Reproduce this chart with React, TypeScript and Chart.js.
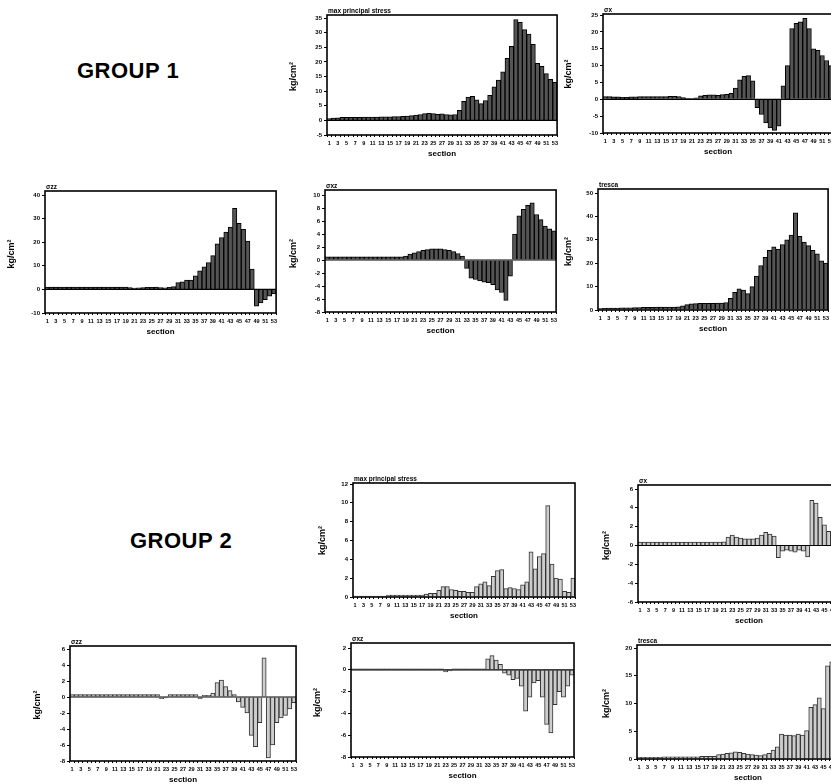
import React, { useEffect, useRef } from "react";
import { Chart, registerables } from "chart.js";

Chart.register(...registerables);

const sections = [
  1, 2, 3, 4, 5, 6, 7, 8, 9, 10, 11, 12, 13, 14, 15, 16, 17, 18, 19, 20, 21, 22, 23, 24, 25, 26,
  27, 28, 29, 30, 31, 32, 33, 34, 35, 36, 37, 38, 39, 40, 41, 42, 43, 44, 45, 46, 47, 48, 49, 50,
  51, 52, 53,
];

const g1MaxPrincipal = [
  0.6, 0.8, 0.9, 1.0, 1.0, 1.0, 1.0, 1.0, 1.1, 1.1, 1.1, 1.1, 1.2, 1.2, 1.2, 1.3, 1.3, 1.4, 1.5, 1.6,
  1.8, 2.0, 2.3, 2.4, 2.3, 2.1, 2.2, 2.0, 1.9, 2.0, 3.4, 6.5, 8.0, 8.2, 7.0, 5.7, 6.8, 8.6, 11.5, 13.8,
  16.6, 21.2, 25.3, 34.5, 33.5, 31.0, 29.5, 26.0, 19.5, 18.5, 16.0, 14.0, 13.0,
];
const g1Sx = [
  0.8, 0.8, 0.7, 0.7, 0.6, 0.6, 0.7, 0.7, 0.8, 0.8, 0.8, 0.8, 0.8, 0.8, 0.8, 0.9, 0.9, 0.8, 0.5, 0.3,
  0.2, 0.4, 1.0, 1.2, 1.3, 1.3, 1.2, 1.4, 1.5, 1.8, 3.3, 5.8, 6.8, 7.0, 5.5, -2.5, -4.5, -7.0, -8.5, -9.2,
  -8.0, 4.0, 10.0, 21.0, 22.5, 23.0, 24.0, 21.0, 15.0, 14.5, 13.0, 11.5, 10.0,
];
const g1Szz = [
  1.0, 1.0, 1.0, 1.0, 1.0, 1.0, 1.0, 1.0, 1.0, 1.0, 1.0, 1.0, 1.0, 1.0, 1.0, 1.0, 1.0, 1.0, 1.0, 0.8,
  0.6, 0.7, 0.8, 0.9, 0.9, 1.0, 0.8, 0.7, 0.9, 1.2, 2.9, 3.2, 3.9, 4.0, 5.7, 7.9, 9.6, 11.4, 14.3, 19.3,
  22.0, 24.3, 26.4, 34.3, 28.0, 25.5, 20.5, 8.6, -7.1, -5.7, -4.3, -2.9, -1.9,
];
const g1Sxz = [
  0.5, 0.5, 0.5, 0.5, 0.5, 0.5, 0.5, 0.5, 0.5, 0.5, 0.5, 0.5, 0.5, 0.5, 0.5, 0.5, 0.5, 0.5, 0.6, 0.9,
  1.1, 1.3, 1.5, 1.6, 1.7, 1.7, 1.7, 1.6, 1.5, 1.3, 1.0, 0.6, -1.3, -2.8, -3.0, -3.2, -3.4, -3.5, -3.8, -4.6,
  -5.0, -6.2, -2.5, 4.0, 6.8, 7.8, 8.4, 8.8, 7.0, 6.2, 5.2, 4.8, 4.5,
];
const g1Tresca = [
  0.6, 0.7, 0.8, 0.8, 0.8, 0.9, 0.9, 0.9, 1.0, 1.0, 1.1, 1.1, 1.1, 1.2, 1.2, 1.2, 1.3, 1.3, 1.4, 1.8,
  2.3, 2.6, 2.7, 2.8, 2.8, 2.9, 2.9, 3.0, 3.0, 3.2, 5.0, 7.5, 9.0, 8.5, 7.0, 10.0, 14.5, 19.0, 22.5, 25.5,
  27.0, 26.0, 28.0, 30.0, 32.0, 41.5, 31.5, 29.0, 27.5, 25.5, 24.0, 21.0, 20.0,
];

const g2MaxPrincipal = [
  0.1, 0.1, 0.1, 0.1, 0.1, 0.1, 0.1, 0.1, 0.2, 0.2, 0.2, 0.2, 0.2, 0.2, 0.2, 0.2, 0.2, 0.3, 0.4, 0.4,
  0.7, 1.1, 1.1, 0.8, 0.7, 0.6, 0.6, 0.5, 0.5, 1.1, 1.4, 1.6, 1.2, 2.2, 2.8, 2.9, 0.9, 1.0, 0.9, 0.8,
  1.3, 1.6, 4.8, 3.0, 4.3, 4.6, 9.7, 3.5, 2.0, 1.9, 0.6, 0.5, 2.0,
];
const g2Sx = [
  0.35, 0.35, 0.35, 0.35, 0.35, 0.35, 0.35, 0.35, 0.35, 0.35, 0.35, 0.35, 0.35, 0.35, 0.35, 0.35, 0.35,
  0.35, 0.35, 0.35, 0.4, 0.9, 1.1, 0.9, 0.8, 0.7, 0.7, 0.7, 0.8, 1.1, 1.4, 1.2, 1.0, -1.3, -0.6, -0.5,
  -0.6, -0.7, -0.5, -0.6, -1.2, 4.8, 4.5, 3.0, 2.2, 1.5, 1.2, 1.0, 0.8, 0.6, 0.5, 0.4, 0.3,
];
const g2Szz = [
  0.3, 0.3, 0.3, 0.3, 0.3, 0.3, 0.3, 0.3, 0.3, 0.3, 0.3, 0.3, 0.3, 0.3, 0.3, 0.3, 0.3, 0.3, 0.3, 0.3,
  0.3, -0.2, -0.1, 0.3, 0.3, 0.3, 0.3, 0.3, 0.3, 0.3, -0.2, 0.2, 0.2, 0.5, 1.8, 2.1, 1.3, 0.8, 0.3, -0.6,
  -1.3, -2.0, -4.8, -6.2, -3.2, 4.9, -7.6, -6.0, -3.2, -2.6, -2.3, -1.5, -0.7,
];
const g2Sxz = [
  0.1, 0.1, 0.1, 0.1, 0.1, 0.1, 0.1, 0.1, 0.1, 0.1, 0.1, 0.1, 0.1, 0.1, 0.1, 0.1, 0.1, 0.1, 0.1, 0.1,
  0.1, 0.1, -0.2, -0.1, 0.1, 0.1, 0.1, 0.1, 0.1, 0.1, 0.1, 0.1, 1.0, 1.3, 0.9, 0.5, -0.3, -0.5, -0.9, -0.8,
  -1.5, -3.8, -2.5, -1.2, -1.0, -2.5, -5.0, -5.8, -3.2, -2.0, -2.5, -1.5, -0.5,
];
const g2Tresca = [
  0.3, 0.3, 0.3, 0.3, 0.3, 0.3, 0.4, 0.4, 0.4, 0.4, 0.4, 0.4, 0.4, 0.4, 0.4, 0.5, 0.5, 0.5, 0.5, 0.8,
  0.9, 1.0, 1.1, 1.3, 1.2, 1.0, 0.9, 0.8, 0.7, 0.6, 0.8, 1.0, 1.6, 2.2, 4.5, 4.3, 4.3, 4.2, 4.5, 4.3,
  5.1, 9.3, 9.8, 11.0, 9.1, 16.8, 17.5, 15.0, 14.0, 13.0, 12.0, 11.0, 10.0,
];

const groupLabels = ["GROUP 1", "GROUP 2"];
const panelTitles = ["max principal stress", "σx", "σzz", "σxz", "tresca"];
const yTitle = "kg/cm²";
const xTitle = "section";

type Spec = {
  title: string;
  values: number[];
  min: number;
  max: number;
  step: number;
  l: number;
  r: number;
  t: number;
  b: number;
  ft: number;
  yl: number;
  dark: boolean;
};

const specs: Spec[] = [
  { title: panelTitles[0], values: g1MaxPrincipal, min: -5, max: 35, step: 5, l: 327, r: 558, t: 18, b: 135, ft: 15, yl: 294, dark: true },
  { title: panelTitles[1], values: g1Sx, min: -10, max: 25, step: 5, l: 603, r: 834, t: 15, b: 133, ft: 14, yl: 569, dark: true },
  { title: panelTitles[2], values: g1Szz, min: -10, max: 40, step: 10, l: 45, r: 277, t: 195, b: 313, ft: 191, yl: 12, dark: true },
  { title: panelTitles[3], values: g1Sxz, min: -8, max: 10, step: 2, l: 325, r: 557, t: 195, b: 312, ft: 190, yl: 294, dark: true },
  { title: panelTitles[4], values: g1Tresca, min: 0, max: 50, step: 10, l: 598, r: 829, t: 193, b: 310, ft: 189, yl: 569, dark: true },
  { title: panelTitles[0], values: g2MaxPrincipal, min: 0, max: 12, step: 2, l: 353, r: 576, t: 484, b: 597, ft: 483, yl: 323, dark: false },
  { title: panelTitles[1], values: g2Sx, min: -6, max: 6, step: 2, l: 638, r: 861, t: 489, b: 602, ft: 485, yl: 607, dark: false },
  { title: panelTitles[2], values: g2Szz, min: -8, max: 6, step: 2, l: 70, r: 297, t: 649, b: 761, ft: 646, yl: 38, dark: false },
  { title: panelTitles[3], values: g2Sxz, min: -8, max: 2, step: 2, l: 351, r: 575, t: 648, b: 757, ft: 643, yl: 318, dark: false },
  { title: panelTitles[4], values: g2Tresca, min: 0, max: 20, step: 5, l: 637, r: 860, t: 648, b: 759, ft: 645, yl: 607, dark: false },
];

const FONT = "'Liberation Sans', Arial, sans-serif";

function Panel({ spec }: { spec: Spec }) {
  const ref = useRef<HTMLCanvasElement>(null);
  const cl = spec.yl - 6;
  const ct = spec.ft - 12;
  const padTop = spec.t - ct;
  const xAxisH = 24;
  const w = spec.r - cl + 3;
  const h = spec.b - ct + xAxisH;
  const yAxisW = spec.l - cl;

  useEffect(() => {
    const canvas = ref.current;
    if (!canvas) return;
    const framePlugin = {
      id: "frame",
      afterDatasetsDraw(chart: any) {
        const { ctx, chartArea, scales } = chart;
        const ft = spec.ft - ct;
        ctx.save();
        ctx.strokeStyle = "#000";
        if (spec.min < 0) {
          const y0 = scales.y.getPixelForValue(0);
          ctx.lineWidth = 1.2;
          ctx.beginPath();
          ctx.moveTo(chartArea.left, y0);
          ctx.lineTo(chartArea.right, y0);
          ctx.stroke();
        }
        ctx.lineWidth = 1.6;
        ctx.strokeRect(chartArea.left, ft, chartArea.right - chartArea.left, chartArea.bottom - ft);
        ctx.fillStyle = "#000";
        ctx.font = `bold 6.5px ${FONT}`;
        ctx.textBaseline = "alphabetic";
        ctx.textAlign = "left";
        ctx.fillText(spec.title, chartArea.left + 1, ft - 2.5);
        ctx.restore();
      },
    };
    const chart = new Chart(canvas, {
      type: "bar",
      data: {
        labels: sections.map(String),
        datasets: [
          {
            data: spec.values,
            backgroundColor: spec.dark ? "#555" : "#cdcdcd",
            borderColor: spec.dark ? "#000" : "#333",
            borderWidth: 1,
            barPercentage: 1,
            categoryPercentage: 1,
          },
        ],
      },
      options: {
        animation: false,
        responsive: false,
        events: [],
        layout: { padding: { top: padTop, left: 0, right: 3, bottom: 0 } },
        plugins: { legend: { display: false }, tooltip: { enabled: false } },
        scales: {
          x: {
            ticks: {
              autoSkip: false,
              maxRotation: 0,
              minRotation: 0,
              padding: 3,
              color: "#000",
              font: { family: FONT, size: 5.5, weight: "bold" },
              callback: (_v: any, i: number) => (i % 2 === 0 ? String(sections[i]) : ""),
            },
            grid: { display: true, drawOnChartArea: false, drawTicks: true, tickLength: 2, color: "#000" },
            border: { display: false },
            title: {
              display: true,
              text: xTitle,
              color: "#000",
              font: { family: FONT, size: 8, weight: "bold" },
              padding: { top: 0, bottom: 0 },
            },
            afterFit: (s: any) => {
              s.height = xAxisH;
            },
          },
          y: {
            min: spec.min,
            max: spec.max,
            ticks: {
              stepSize: spec.step,
              padding: 2,
              color: "#000",
              font: { family: FONT, size: 6, weight: "bold" },
            },
            grid: { display: true, drawOnChartArea: false, drawTicks: true, tickLength: 3, color: "#000" },
            border: { display: false },
            title: {
              display: true,
              text: yTitle,
              color: "#000",
              font: { family: FONT, size: 9, weight: "bold" },
              padding: 0,
            },
            afterFit: (s: any) => {
              s.width = yAxisW;
            },
          },
        },
      },
      plugins: [framePlugin],
    } as any);
    return () => chart.destroy();
  }, []);

  return (
    <canvas
      ref={ref}
      width={w}
      height={h}
      style={{ position: "absolute", left: cl, top: ct, width: w, height: h }}
    />
  );
}

export default function App() {
  return (
    <div
      style={{
        position: "fixed",
        left: 0,
        top: 0,
        width: 831,
        height: 784,
        overflow: "hidden",
        background: "#fff",
      }}
    >
      <div
        style={{
          position: "absolute",
          left: 77,
          top: 58,
          font: `bold 22px ${FONT}`,
          letterSpacing: 0.5,
          color: "#000",
          whiteSpace: "nowrap",
        }}
      >
        {groupLabels[0]}
      </div>
      <div
        style={{
          position: "absolute",
          left: 130,
          top: 528,
          font: `bold 22px ${FONT}`,
          letterSpacing: 0.5,
          color: "#000",
          whiteSpace: "nowrap",
        }}
      >
        {groupLabels[1]}
      </div>
      {specs.map((s, i) => (
        <Panel key={i} spec={s} />
      ))}
    </div>
  );
}
